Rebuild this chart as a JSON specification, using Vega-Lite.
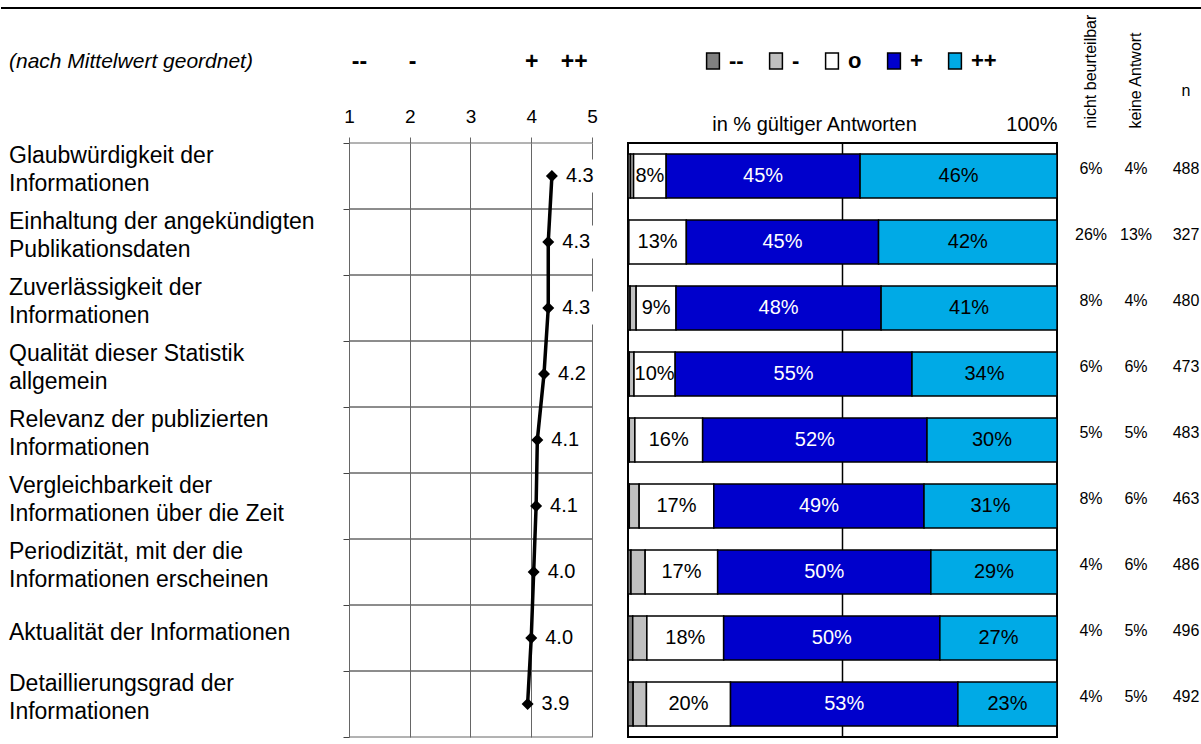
{
  "$schema": "https://vega.github.io/schema/vega-lite/v6.json",
  "padding": {"left": 0, "top": 7, "right": 0, "bottom": 0},
  "autosize": {"type": "pad"},
  "bounds": "flush",
  "spacing": 134,
  "resolve": {"scale": {"color": "independent"}, "legend": {"color": "independent"}},
  "config": {"font": "Liberation Sans", "view": {"stroke": null}, "axis": {"labelColor": "black", "titleColor": "black"}, "legend": {"labelColor": "black"}},
  "datasets": {
    "items": [
      {"id": 1, "label": "Glaubwürdigkeit der\nInformationen", "mean": 4.34, "n": 488},
      {"id": 2, "label": "Einhaltung der angekündigten\nPublikationsdaten", "mean": 4.28, "n": 327},
      {"id": 3, "label": "Zuverlässigkeit der\nInformationen", "mean": 4.28, "n": 480},
      {"id": 4, "label": "Qualität dieser Statistik\nallgemein", "mean": 4.21, "n": 473},
      {"id": 5, "label": "Relevanz der publizierten\nInformationen", "mean": 4.10, "n": 483},
      {"id": 6, "label": "Vergleichbarkeit der\nInformationen über die Zeit", "mean": 4.08, "n": 463},
      {"id": 7, "label": "Periodizität, mit der die\nInformationen erscheinen", "mean": 4.04, "n": 486},
      {"id": 8, "label": "Aktualität der Informationen", "mean": 4.00, "n": 496},
      {"id": 9, "label": "Detaillierungsgrad der\nInformationen", "mean": 3.94, "n": 492}
    ],
    "bars": [
      {"id": 1, "cat": "--", "k": 1, "v": 0.006}, {"id": 1, "cat": "-", "k": 2, "v": 0.007}, {"id": 1, "cat": "o", "k": 3, "v": 0.076}, {"id": 1, "cat": "+", "k": 4, "v": 0.452}, {"id": 1, "cat": "++", "k": 5, "v": 0.459},
      {"id": 2, "cat": "--", "k": 1, "v": 0.0}, {"id": 2, "cat": "-", "k": 2, "v": 0.002}, {"id": 2, "cat": "o", "k": 3, "v": 0.134}, {"id": 2, "cat": "+", "k": 4, "v": 0.448}, {"id": 2, "cat": "++", "k": 5, "v": 0.416},
      {"id": 3, "cat": "--", "k": 1, "v": 0.005}, {"id": 3, "cat": "-", "k": 2, "v": 0.014}, {"id": 3, "cat": "o", "k": 3, "v": 0.093}, {"id": 3, "cat": "+", "k": 4, "v": 0.478}, {"id": 3, "cat": "++", "k": 5, "v": 0.41},
      {"id": 4, "cat": "--", "k": 1, "v": 0.003}, {"id": 4, "cat": "-", "k": 2, "v": 0.011}, {"id": 4, "cat": "o", "k": 3, "v": 0.096}, {"id": 4, "cat": "+", "k": 4, "v": 0.552}, {"id": 4, "cat": "++", "k": 5, "v": 0.338},
      {"id": 5, "cat": "--", "k": 1, "v": 0.003}, {"id": 5, "cat": "-", "k": 2, "v": 0.013}, {"id": 5, "cat": "o", "k": 3, "v": 0.158}, {"id": 5, "cat": "+", "k": 4, "v": 0.523}, {"id": 5, "cat": "++", "k": 5, "v": 0.303},
      {"id": 6, "cat": "--", "k": 1, "v": 0.003}, {"id": 6, "cat": "-", "k": 2, "v": 0.023}, {"id": 6, "cat": "o", "k": 3, "v": 0.174}, {"id": 6, "cat": "+", "k": 4, "v": 0.49}, {"id": 6, "cat": "++", "k": 5, "v": 0.31},
      {"id": 7, "cat": "--", "k": 1, "v": 0.007}, {"id": 7, "cat": "-", "k": 2, "v": 0.033}, {"id": 7, "cat": "o", "k": 3, "v": 0.169}, {"id": 7, "cat": "+", "k": 4, "v": 0.497}, {"id": 7, "cat": "++", "k": 5, "v": 0.294},
      {"id": 8, "cat": "--", "k": 1, "v": 0.011}, {"id": 8, "cat": "-", "k": 2, "v": 0.033}, {"id": 8, "cat": "o", "k": 3, "v": 0.179}, {"id": 8, "cat": "+", "k": 4, "v": 0.504}, {"id": 8, "cat": "++", "k": 5, "v": 0.273},
      {"id": 9, "cat": "--", "k": 1, "v": 0.012}, {"id": 9, "cat": "-", "k": 2, "v": 0.031}, {"id": 9, "cat": "o", "k": 3, "v": 0.196}, {"id": 9, "cat": "+", "k": 4, "v": 0.53}, {"id": 9, "cat": "++", "k": 5, "v": 0.231}
    ],
    "extra": [
      {"id": 1, "col": "nicht beurteilbar", "v": 0.06}, {"id": 1, "col": "keine Antwort", "v": 0.04},
      {"id": 2, "col": "nicht beurteilbar", "v": 0.26}, {"id": 2, "col": "keine Antwort", "v": 0.13},
      {"id": 3, "col": "nicht beurteilbar", "v": 0.08}, {"id": 3, "col": "keine Antwort", "v": 0.04},
      {"id": 4, "col": "nicht beurteilbar", "v": 0.06}, {"id": 4, "col": "keine Antwort", "v": 0.06},
      {"id": 5, "col": "nicht beurteilbar", "v": 0.05}, {"id": 5, "col": "keine Antwort", "v": 0.05},
      {"id": 6, "col": "nicht beurteilbar", "v": 0.08}, {"id": 6, "col": "keine Antwort", "v": 0.06},
      {"id": 7, "col": "nicht beurteilbar", "v": 0.04}, {"id": 7, "col": "keine Antwort", "v": 0.06},
      {"id": 8, "col": "nicht beurteilbar", "v": 0.04}, {"id": 8, "col": "keine Antwort", "v": 0.05},
      {"id": 9, "col": "nicht beurteilbar", "v": 0.04}, {"id": 9, "col": "keine Antwort", "v": 0.05}
    ]
  },
  "vconcat": [
    {
      "width": 1201,
      "height": 2,
      "data": {"values": [{}]},
      "mark": {"type": "rule", "color": "black", "strokeWidth": 2},
      "encoding": {"y": {"datum": 0.5, "type": "quantitative", "scale": {"domain": [0, 1]}, "axis": null}}
    },
    {
      "bounds": "flush",
      "spacing": 0,
      "resolve": {"scale": {"color": "independent"}, "legend": {"color": "independent"}},
      "hconcat": [
        {
          "width": 348,
          "height": 594,
          "data": {"name": "items"},
          "title": {"text": "(nach Mittelwert geordnet)", "anchor": "start", "dx": 8, "offset": 50, "fontSize": 21, "fontStyle": "italic", "fontWeight": "normal", "baseline": "bottom", "color": "black"},
          "layer": [
            {
              "transform": [{"filter": "indexof(datum.label, '\\n') >= 0"}],
              "mark": {"type": "text", "align": "left", "baseline": "middle", "dx": 8, "fontSize": 23, "lineBreak": "\n", "lineHeight": 28, "color": "black"},
              "encoding": {
                "x": {"datum": 0, "type": "quantitative", "scale": {"domain": [0, 1]}, "axis": null},
                "y": {"field": "id", "type": "ordinal", "bandPosition": 0.195, "scale": {"type": "band", "paddingInner": 0, "paddingOuter": 0, "domain": [1, 2, 3, 4, 5, 6, 7, 8, 9]}, "axis": null},
                "text": {"field": "label"}
              }
            },
            {
              "transform": [{"filter": "indexof(datum.label, '\\n') < 0"}],
              "mark": {"type": "text", "align": "left", "baseline": "middle", "dx": 8, "fontSize": 23, "color": "black"},
              "encoding": {
                "x": {"datum": 0, "type": "quantitative", "axis": null},
                "y": {"field": "id", "type": "ordinal", "bandPosition": 0.43, "axis": null},
                "text": {"field": "label"}
              }
            }
          ]
        },
        {
          "width": 279,
          "height": 594,
          "data": {"name": "items"},
          "resolve": {"axis": {"x": "independent", "y": "independent"}},
          "layer": [
            {
              "mark": {"type": "rule", "color": "#666666", "strokeWidth": 1},
              "encoding": {
                "x": {"datum": 1, "type": "quantitative", "scale": {"domain": [1, 5.5926], "nice": false, "zero": false}, "axis": null},
                "x2": {"datum": 5},
                "y": {"field": "id", "type": "ordinal", "bandPosition": 0, "scale": {"type": "band", "paddingInner": 0, "paddingOuter": 0},
                      "axis": {"orient": "left", "labels": false, "domain": false, "ticks": true, "tickBand": "extent", "tickSize": 6, "tickColor": "#444444", "tickWidth": 1, "grid": false, "title": null}}
              }
            },
            {
              "mark": {"type": "rule", "color": "#666666", "strokeWidth": 1},
              "encoding": {
                "x": {"datum": 1, "type": "quantitative", "axis": null},
                "x2": {"datum": 5},
                "y": {"field": "id", "type": "ordinal", "bandPosition": 1, "axis": null}
              }
            },
            {
              "mark": {"type": "square", "color": "white", "filled": true, "opacity": 1, "size": 1089, "xOffset": 29},
              "encoding": {
                "x": {"field": "mean", "type": "quantitative", "axis": null},
                "y": {"field": "id", "type": "ordinal", "bandPosition": 0.5, "axis": null}
              }
            },
            {
              "mark": {"type": "line", "color": "black", "strokeWidth": 3.5},
              "encoding": {
                "x": {"field": "mean", "type": "quantitative",
                      "axis": {"orient": "top", "values": [1, 2, 3, 4, 5], "format": "d", "grid": true, "gridColor": "#666666", "gridWidth": 1, "ticks": true, "tickSize": 6, "tickColor": "#666666", "domain": false, "labelFontSize": 19, "labelPadding": 11, "labelFlush": false, "title": null}},
                "y": {"field": "id", "type": "ordinal", "bandPosition": 0.5, "axis": null},
                "order": {"value": null}
              }
            },
            {
              "mark": {"type": "point", "shape": "diamond", "filled": true, "color": "black", "size": 144, "opacity": 1},
              "encoding": {
                "x": {"field": "mean", "type": "quantitative", "axis": null},
                "y": {"field": "id", "type": "ordinal", "bandPosition": 0.5, "axis": null}
              }
            },
            {
              "mark": {"type": "text", "align": "left", "baseline": "middle", "dx": 14, "fontSize": 20, "color": "black"},
              "encoding": {
                "x": {"field": "mean", "type": "quantitative",
                      "axis": {"orient": "top", "values": [1.165, 2.04, 4, 4.7], "labelExpr": "datum.value < 1.5 ? '--' : datum.value < 3 ? '-' : datum.value < 4.5 ? '+' : '++'", "grid": false, "ticks": false, "tickSize": 0, "domain": false, "labelFontSize": 23, "labelFontWeight": "bold", "labelPadding": 70, "labelFlush": false, "labelOverlap": false, "labelBound": false, "title": null}},
                "y": {"field": "id", "type": "ordinal", "bandPosition": 0.5, "axis": null},
                "text": {"field": "mean", "format": ".1f"}
              }
            }
          ]
        },
        {
          "width": 429,
          "height": 594,
          "view": {"stroke": "black", "strokeWidth": 2},
          "resolve": {"axis": {"x": "independent"}},
          "layer": [
            {
              "data": {"values": [{}]},
              "mark": {"type": "rule", "color": "black", "strokeWidth": 1.5},
              "encoding": {
                "x": {"datum": 0.5, "type": "quantitative", "scale": {"domain": [0, 1], "nice": false, "zero": false},
                      "axis": {"orient": "top", "values": [1], "format": ".0%", "labelAlign": "right", "grid": false, "ticks": false, "tickSize": 0, "domain": false, "labelFontSize": 20, "labelPadding": 9, "labelFlush": false, "labelBound": false,
                               "title": "in % gültiger Antworten", "titleFontSize": 20, "titleFontWeight": "normal", "titleAnchor": "middle", "titleX": 186, "titleY": -9, "titleBaseline": "bottom"}}
              }
            },
            {
              "data": {"name": "bars"},
              "mark": {"type": "bar", "stroke": "black", "strokeWidth": 1.5},
              "encoding": {
                "x": {"field": "v", "type": "quantitative", "stack": "zero", "axis": null},
                "y": {"field": "id", "type": "ordinal", "scale": {"type": "band", "paddingInner": 0.333, "paddingOuter": 0.1667}, "axis": null},
                "color": {"field": "cat", "type": "nominal",
                          "scale": {"domain": ["--", "-", "o", "+", "++"], "range": ["#808080", "#c0c0c0", "#ffffff", "#0000cc", "#00aae6"]},
                          "legend": {"orient": "none", "legendX": 74, "legendY": -93, "direction": "horizontal", "title": null, "padding": 0,
                                     "symbolType": "M-0.8,-1H0.8V1H-0.8Z", "symbolSize": 256, "symbolStrokeColor": "black", "symbolStrokeWidth": 1.5, "symbolOpacity": 1,
                                     "labelFontSize": 22, "labelFontWeight": "bold", "labelOffset": 5, "columnPadding": 21}},
                "order": {"field": "k"}
              }
            },
            {
              "data": {"name": "bars"},
              "mark": {"type": "text", "fontSize": 20, "baseline": "middle"},
              "encoding": {
                "x": {"field": "v", "type": "quantitative", "stack": "zero", "bandPosition": 0.5, "axis": null},
                "y": {"field": "id", "type": "ordinal", "axis": null},
                "order": {"field": "k"},
                "text": {"condition": {"test": "datum.k <= 2", "value": ""}, "field": "v", "format": ".0%"},
                "color": {"condition": {"test": "datum.k == 4", "value": "white"}, "value": "black"}
              }
            }
          ]
        },
        {
          "width": 113,
          "height": 594,
          "data": {"name": "extra"},
          "mark": {"type": "text", "fontSize": 16, "color": "black", "baseline": "middle"},
          "encoding": {
            "x": {"field": "col", "type": "nominal", "sort": null, "scale": {"type": "band", "paddingInner": 0, "paddingOuter": 0.2556},
                  "axis": {"orient": "top", "labelAngle": 270, "labelAlign": "left", "labelBaseline": "middle", "labelPadding": 15, "ticks": false, "tickSize": 0, "domain": false, "grid": false, "labelFontSize": 16, "labelLimit": 0, "title": null}},
            "y": {"field": "id", "type": "ordinal", "bandPosition": 0.39, "scale": {"type": "band", "paddingInner": 0, "paddingOuter": 0}, "axis": null},
            "text": {"field": "v", "format": ".0%"}
          }
        },
        {
          "width": 32,
          "height": 594,
          "data": {"name": "items"},
          "mark": {"type": "text", "fontSize": 16, "color": "black", "baseline": "middle"},
          "encoding": {
            "x": {"datum": "n", "type": "nominal", "scale": {"type": "band", "paddingInner": 0, "paddingOuter": 0},
                  "axis": {"orient": "top", "labelAngle": 0, "labelPadding": 45, "ticks": false, "tickSize": 0, "domain": false, "grid": false, "labelFontSize": 16, "title": null}},
            "y": {"field": "id", "type": "ordinal", "bandPosition": 0.39, "scale": {"type": "band", "paddingInner": 0, "paddingOuter": 0}, "axis": null},
            "text": {"field": "n"}
          }
        }
      ]
    }
  ]
}
